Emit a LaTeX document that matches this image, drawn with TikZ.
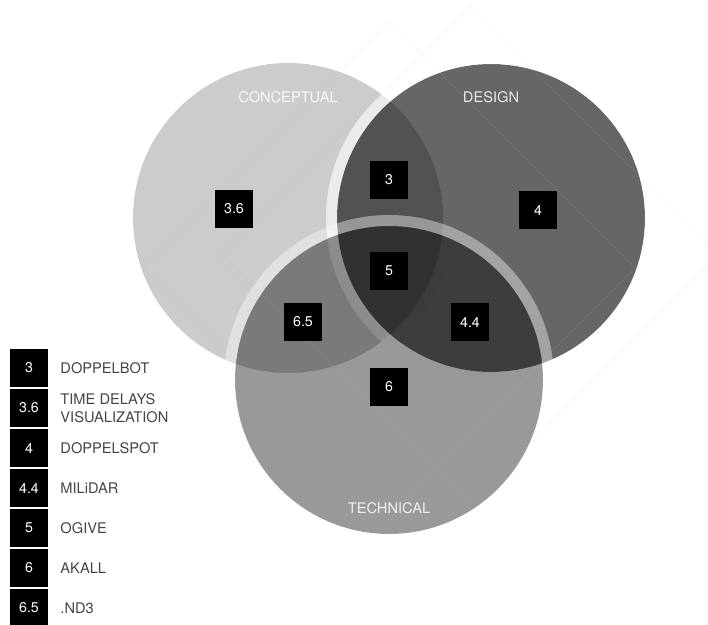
\documentclass[tikz,border=0pt]{standalone}
\usepackage{fontspec}
\setmainfont{TeX Gyre Heros}
\usetikzlibrary{positioning}

\begin{document}
\begin{tikzpicture}[
    x=0.03cm, y=-0.03cm, % one unit = one pixel, y running down
    node font=\fontsize{12.5}{15.3}\selectfont,
    numbox/.style={fill=black, text=white, minimum size=1.14cm, inner sep=0pt,
                   font=\fontsize{12.1}{14}\selectfont},
    setlabel/.style={text=white, text opacity=0.85},
    keytext/.style={text=black!73, align=left, inner sep=0pt},
    frame/.style={draw=black!6, line width=0.5pt},
    frametop/.style={draw=white, draw opacity=0.12, line width=0.5pt},
    ring/.style={fill=white, even odd rule}
]
  \useasboundingbox (0,0) rectangle (708,625);

  % --- BACKGROUND FRAMES ---
  \def\frameA{(470,7) -- (718,255) -- (470,503) -- (222,255) -- cycle}
  \def\frameB{(389,22) -- (635,268) -- (389,514) -- (143,268) -- cycle}
  \draw[frame] \frameA;
  \draw[frame] \frameB;

  % --- SETS (fill, then a light rim just outside) ---
  \foreach \cx/\cy/\r/\op in {288/218/155/0.2, 491/218/154/0.6, 389/380/154/0.4} {
    \fill[black, opacity=\op] (\cx,\cy) circle[radius=\r];
    \fill[ring, opacity=\op] (\cx,\cy) circle[radius=\r] circle[radius=\r+11];
  }

  % frames show faintly through the sets
  \draw[frametop] \frameA;
  \draw[frametop] \frameB;

  \node[setlabel] (conceptual) at (288,97) {CONCEPTUAL};
  \node[setlabel] (design) at (491,97) {DESIGN};
  \node[setlabel] (technical) at (389,508) {TECHNICAL};

  % --- PROJECTS IN THE REGIONS ---
  \node[numbox] (n3) at (389,180) {3};
  \node[numbox] (n36) at (234,209) {3.6};
  \node[numbox] (n4) at (538,210) {4};
  \node[numbox] (n5) at (389,271) {5};
  \node[numbox] (n65) at (303,322) {6.5};
  \node[numbox] (n44) at (470,322) {4.4};
  \node[numbox] (n6) at (389,387) {6};

  % --- KEY ---
  \foreach \num/\name/\id [count=\i from 0] in {3/DOPPELBOT/3,
      3.6/{TIME DELAYS\\VISUALIZATION}/36, 4/DOPPELSPOT/4, 4.4/MILiDAR/44,
      5/OGIVE/5, 6/AKALL/6, 6.5/.ND3/65} {
    \node[numbox] (key-\id) at (29,368+40*\i) {\num};
    \node[keytext, right=0.36cm of key-\id] (name-\id) {\name};
  }

\end{tikzpicture}
\end{document}
